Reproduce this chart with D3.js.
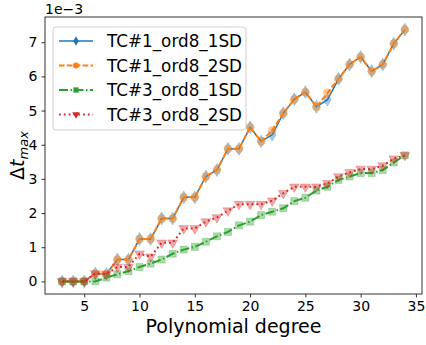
<!DOCTYPE html>
<html>
<head>
<meta charset="utf-8">
<script src="https://cdn.jsdelivr.net/npm/d3@7"></script>
<style>
  body { margin: 0; background: #fff; }
  text { font-family: "DejaVu Sans", sans-serif; }
</style>
</head>
<body>
<div id="chart"></div>
<script>
// polynomial degrees on the x axis
var degrees = d3.range(3, 35);

// values in units of 1e-3
var tc1_1sd = [0, 0, 0, 0.23, 0.22, 0.64, 0.64, 1.24, 1.24, 1.84, 1.84, 2.46, 2.46, 3.07, 3.26, 3.88,
               3.88, 4.51, 4.10, 4.29, 4.92, 5.33, 5.54, 5.11, 5.32, 5.93, 6.35, 6.57, 6.15, 6.35, 6.96, 7.37];
var tc1_2sd = [0, 0, 0, 0.23, 0.22, 0.64, 0.64, 1.24, 1.24, 1.84, 1.84, 2.46, 2.46, 3.07, 3.26, 3.88,
               3.88, 4.51, 4.10, 4.42, 4.92, 5.33, 5.54, 5.11, 5.52, 5.93, 6.35, 6.57, 6.15, 6.35, 6.96, 7.37];
var tc3_1sd = [0, 0, 0, 0, 0.11, 0.21, 0.30, 0.42, 0.52, 0.64, 0.81, 0.93, 1.01, 1.16, 1.32, 1.45,
               1.64, 1.75, 1.94, 2.04, 2.14, 2.35, 2.45, 2.66, 2.77, 2.97, 3.07, 3.17, 3.17, 3.26, 3.48, 3.69];
var tc3_2sd = [0, 0, 0, 0.23, 0.22, 0.42, 0.42, 0.81, 0.72, 1.13, 1.13, 1.55, 1.55, 1.75, 1.87, 2.07,
               2.26, 2.26, 2.26, 2.36, 2.58, 2.77, 2.77, 2.77, 2.87, 3.07, 3.19, 3.29, 3.29, 3.39, 3.59, 3.69];

var xTicks = [5, 10, 15, 20, 25, 30, 35];
var yTicks = [0, 1, 2, 3, 4, 5, 6, 7];

var series = [
  { name: "TC#1_ord8_1SD", values: tc1_1sd, color: "#1f77b4", dash: null, width: 1.5, marker: d3.symbolDiamond, msize: 48, lsize: 26 },
  { name: "TC#1_ord8_2SD", values: tc1_2sd, color: "#ff7f0e", dash: "5.5,2.4", width: 2, marker: d3.symbolCircle, msize: 50, lsize: 28 },
  { name: "TC#3_ord8_1SD", values: tc3_1sd, color: "#2ca02c", dash: "9,2.5,1.5,2.5", width: 2, marker: d3.symbolSquare, msize: 50, lsize: 28 },
  { name: "TC#3_ord8_2SD", values: tc3_2sd, color: "#d62728", dash: "1.8,3", width: 2, marker: d3.symbolTriangle, msize: 42, lsize: 24, flip: true }
];

var width = 426, height = 345;
var margin = { top: 17, right: 4, bottom: 51, left: 45 };

var svg = d3.select("#chart").append("svg")
  .attr("width", width)
  .attr("height", height);

var x = d3.scaleLinear()
  .domain([1.45, 35.55])
  .range([margin.left, width - margin.right]);

var y = d3.scaleLinear()
  .domain([-0.369, 7.739])
  .range([height - margin.bottom, margin.top]);

// axes
var xAxis = svg.append("g")
  .attr("transform", "translate(0," + (height - margin.bottom) + ")")
  .call(d3.axisBottom(x).tickValues(xTicks).tickSize(3.5).tickPadding(4).tickSizeOuter(0));
var yAxis = svg.append("g")
  .attr("transform", "translate(" + margin.left + ",0)")
  .call(d3.axisLeft(y).tickValues(yTicks).tickSize(3.5).tickPadding(4).tickSizeOuter(0));

[xAxis, yAxis].forEach(function(ax) {
  ax.select(".domain").remove();
  ax.selectAll("line").attr("stroke", "#000").attr("stroke-width", 0.8);
  ax.selectAll("text").attr("font-size", 14).attr("fill", "#000")
    .style("font-family", "DejaVu Sans, sans-serif");
});

// frame
svg.append("rect")
  .attr("x", margin.left)
  .attr("y", margin.top)
  .attr("width", width - margin.left - margin.right)
  .attr("height", height - margin.top - margin.bottom)
  .attr("fill", "none")
  .attr("stroke", "#000")
  .attr("stroke-width", 0.8);

var plot = svg.append("g");

var line = d3.line()
  .x(function(d, i) { return x(degrees[i]); })
  .y(function(d) { return y(d); });

series.forEach(function(s) {
  plot.append("path")
    .datum(s.values)
    .attr("d", line)
    .attr("fill", "none")
    .attr("stroke", s.color)
    .attr("stroke-width", s.width)
    .attr("stroke-dasharray", s.dash);

  plot.selectAll(null)
    .data(s.values)
    .enter().append("path")
    .attr("d", d3.symbol().type(s.marker).size(s.msize))
    .attr("transform", function(d, i) {
      return "translate(" + x(degrees[i]) + "," + y(d) + ")" + (s.flip ? " rotate(180)" : "");
    })
    .attr("fill", s.color)
    .attr("fill-opacity", 0.4)
    .attr("stroke", s.color)
    .attr("stroke-opacity", 0.25)
    .attr("stroke-width", 1);
});

// scale note
svg.append("text")
  .attr("x", margin.left)
  .attr("y", 14)
  .attr("font-size", 14)
  .text("1e\u22123");

// axis labels
svg.append("text")
  .attr("x", (margin.left + width - margin.right) / 2)
  .attr("y", 333)
  .attr("text-anchor", "middle")
  .attr("font-size", 19)
  .text("Polynomial degree");

var yl = svg.append("text")
  .attr("transform", "translate(24," + ((margin.top + height - margin.bottom) / 2) + ") rotate(-90)")
  .attr("text-anchor", "middle")
  .attr("font-size", 19);
yl.append("tspan").text("\u0394");
yl.append("tspan").attr("font-style", "italic").text("t");
yl.append("tspan").attr("font-style", "italic").attr("font-size", 13).attr("dy", 4).text("max");

// legend
var lg = svg.append("g").attr("transform", "translate(53,27)");
lg.append("rect")
  .attr("width", 193)
  .attr("height", 103)
  .attr("rx", 3)
  .attr("fill", "#fff")
  .attr("fill-opacity", 0.8)
  .attr("stroke", "#d0d0d0")
  .attr("stroke-width", 1);

series.forEach(function(s, i) {
  var cy = 14 + i * 24.5;
  lg.append("line")
    .attr("x1", 6).attr("x2", 40)
    .attr("y1", cy).attr("y2", cy)
    .attr("stroke", s.color)
    .attr("stroke-width", s.width)
    .attr("stroke-dasharray", s.dash);
  lg.append("path")
    .attr("d", d3.symbol().type(s.marker).size(s.lsize))
    .attr("transform", "translate(23," + cy + ")" + (s.flip ? " rotate(180)" : ""))
    .attr("fill", s.color);
  lg.append("text")
    .attr("x", 54)
    .attr("y", cy + 6)
    .attr("font-size", 16.8)
    .text(s.name);
});
</script>
</body>
</html>
